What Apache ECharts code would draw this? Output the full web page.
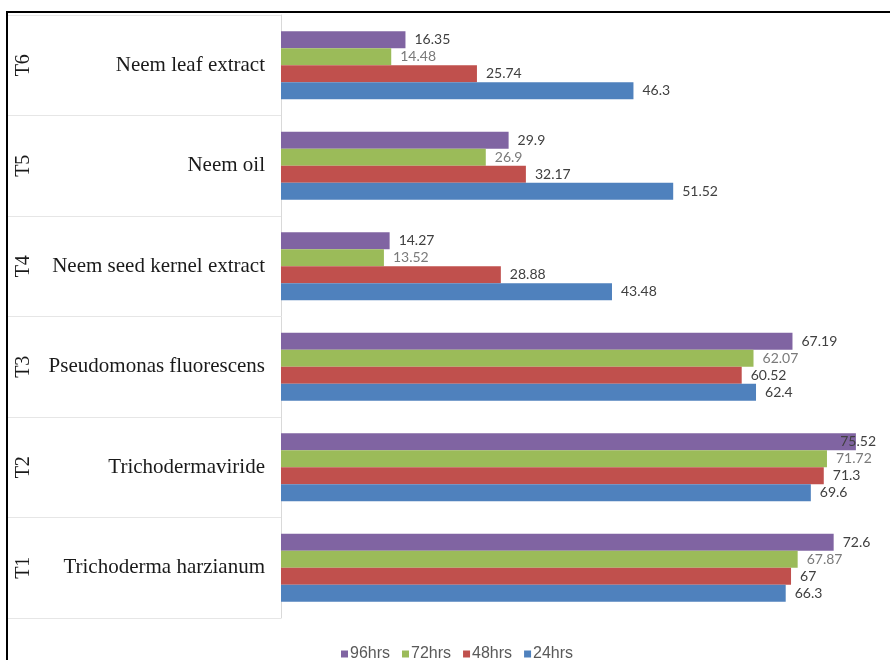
<!DOCTYPE html>
<html>
<head>
<meta charset="utf-8">
<script src="https://cdn.jsdelivr.net/npm/echarts@6/dist/echarts.min.js"></script>
<style>
html,body{margin:0;padding:0;background:#fff;}
#wrap{position:relative;width:890px;height:660px;}
#chart{position:absolute;left:0;top:0;width:890px;height:660px;}
#frame{position:absolute;left:6px;top:11px;width:890px;height:660px;border-top:2px solid #000;border-left:2px solid #000;pointer-events:none;}
</style>
</head>
<body>
<div id="wrap"><div id="chart"></div><div id="frame"></div></div>
<script>
const codes = ['T1','T2','T3','T4','T5','T6'];
const treatments = ['Trichoderma harzianum','Trichodermaviride','Pseudomonas fluorescens','Neem seed kernel extract','Neem oil','Neem leaf extract'];
const seriesNames = ['96hrs','72hrs','48hrs','24hrs'];
const hrs96 = [72.6, 75.52, 67.19, 14.27, 29.9, 16.35];
const hrs72 = [67.87, 71.72, 62.07, 13.52, 26.9, 14.48];
const hrs48 = [67, 71.3, 60.52, 28.88, 32.17, 25.74];
const hrs24 = [66.3, 69.6, 62.4, 43.48, 51.52, 46.3];

const values = [hrs96, hrs72, hrs48, hrs24];
const colors = ['#8064A2','#9BBB59','#C0504D','#4F81BD'];
const labelColors = ['#404040','#7a7a7a','#404040','#404040'];

const chart = echarts.init(document.getElementById('chart'));
chart.setOption({
  animation: false,
  backgroundColor: '#fff',
  grid: {left: 281, right: 0, top: 15, bottom: 42, containLabel: false},
  legend: {
    data: seriesNames,
    top: 641, left: 336,
    itemWidth: 7, itemHeight: 7, itemGap: 12,
    icon: 'rect',
    textStyle: {color: '#595959', fontSize: 16, fontFamily: 'Liberation Sans, sans-serif', padding: [0,0,0,-3]}
  },
  xAxis: {type: 'value', min: 0, max: 80, show: false},
  yAxis: [
    {
      type: 'category', data: treatments, position: 'left',
      axisLine: {show: true, lineStyle: {color: '#d9d9d9', width: 1}},
      axisTick: {show: true, length: 274, lineStyle: {color: '#e6e6e6'}},
      axisLabel: {margin: 16, color: '#1a1a1a', fontSize: 21, fontFamily: 'Liberation Serif, serif'},
      splitLine: {show: false}
    },
    {
      type: 'category', data: codes, position: 'left', offset: 247,
      axisLine: {show: false}, axisTick: {show: false},
      axisLabel: {rotate: 90, margin: 0, color: '#1a1a1a', fontSize: 20, fontFamily: 'Liberation Serif, serif'}
    }
  ],
  series: seriesNames.map((n, i) => ({
    name: n, type: 'bar', yAxisIndex: 0, data: values[i],
    barWidth: 17, barGap: '0%',
    itemStyle: {color: colors[i]},
    label: {show: true, position: 'right', distance: 9, color: labelColors[i], fontSize: 14, fontFamily: 'Lato, sans-serif'}
  })),
  labelLayout: function (p) {
    const r = p.labelRect;
    if (r.x + r.width > 878) {
      return {x: 876 - r.width, y: p.rect.y + p.rect.height / 2, align: 'left', verticalAlign: 'middle'};
    }
    return {};
  }
});
</script>
</body>
</html>
